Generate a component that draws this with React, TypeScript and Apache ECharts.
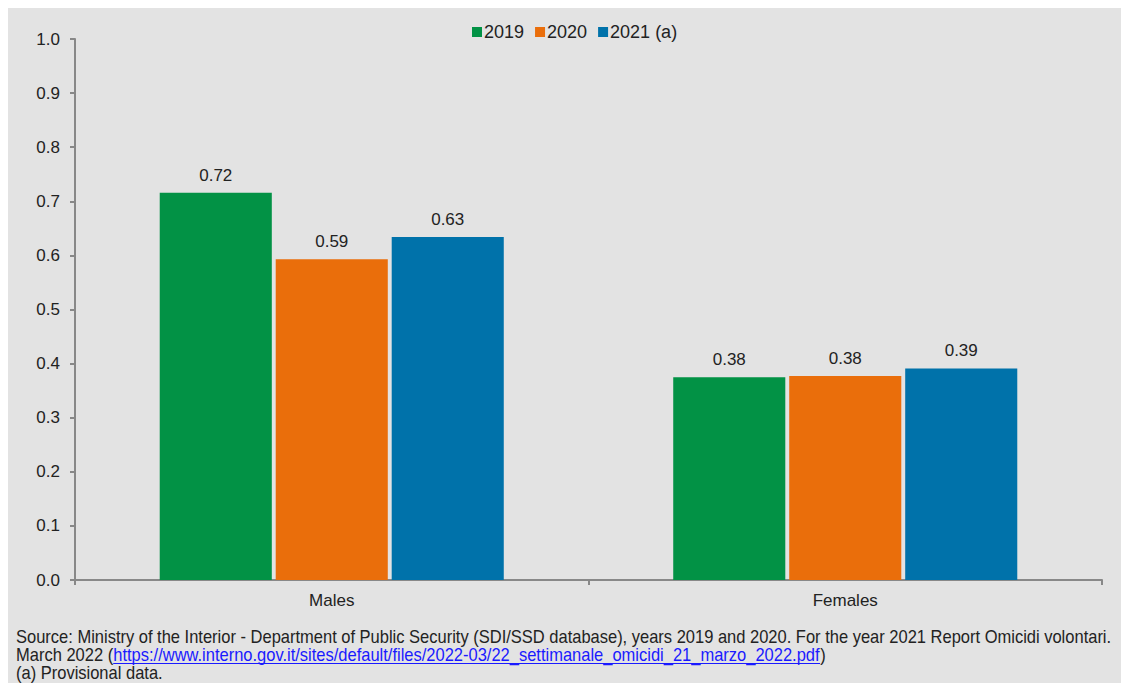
import React, { useEffect, useRef } from "react";
import * as echarts from "echarts";

const categories = ["Males", "Females"];
const seriesNames = ["2019", "2020", "2021 (a)"];
const values2019 = [0.716, 0.375];
const values2020 = [0.593, 0.377];
const values2021 = [0.634, 0.391];
const colors = ["#029245", "#ea6e0b", "#0072aa"];
const yTicks = { min: 0, max: 1, interval: 0.1 };
const sourceLine1 =
  "Source: Ministry of the Interior - Department of Public Security (SDI/SSD database), years 2019 and 2020. For the year 2021 Report Omicidi volontari.";
const sourceLine2a = "March 2022 (";
const sourceLink = "https://www.interno.gov.it/sites/default/files/2022-03/22_settimanale_omicidi_21_marzo_2022.pdf";
const sourceLine2b = ")";
const sourceLine3 = "(a) Provisional data.";

const MAIN_FONT = '"Liberation Sans", Arial, Helvetica, sans-serif';
const NOTE_SIZE = 18;

export default function App() {
  const ref = useRef<HTMLDivElement>(null);
  useEffect(() => {
    if (!ref.current) return;
    const chart = echarts.init(ref.current, null, { renderer: "svg" });
    const canvas = document.createElement("canvas");
    const ctx = canvas.getContext("2d")!;
    ctx.font = NOTE_SIZE + "px " + MAIN_FONT;
    const line1W = ctx.measureText(sourceLine1).width;
    const sx = 1096 / line1W;
    const preW = ctx.measureText(sourceLine2a).width * sx;
    const linkW = ctx.measureText(sourceLink).width * sx;
    const noteX = 8;
    const noteFont = NOTE_SIZE + "px " + MAIN_FONT;
    const data = [values2019, values2020, values2021];
    chart.setOption({
      animation: false,
      backgroundColor: "#e3e3e3",
      textStyle: { fontFamily: MAIN_FONT },
      grid: { left: 67, right: 19, top: 31, bottom: 103 },
      legend: {
        top: 10,
        left: 459,
        itemWidth: 10,
        itemHeight: 10,
        itemGap: 11,
        icon: "rect",
        textStyle: { fontSize: 18, color: "#222", fontFamily: MAIN_FONT, padding: [0, 0, 0, -3] },
        data: seriesNames,
      },
      xAxis: {
        type: "category",
        data: categories,
        axisLine: { lineStyle: { color: "#888", width: 2 } },
        axisTick: { show: true, length: 5, lineStyle: { color: "#888", width: 2 } },
        axisLabel: { fontSize: 17, color: "#222", margin: 12, fontFamily: MAIN_FONT },
      },
      yAxis: {
        type: "value",
        min: yTicks.min,
        max: yTicks.max,
        interval: yTicks.interval,
        axisLine: { show: true, lineStyle: { color: "#888", width: 2 } },
        axisTick: { show: true, length: 5, lineStyle: { color: "#888", width: 2 } },
        splitLine: { show: false },
        axisLabel: {
          fontSize: 17,
          color: "#222",
          margin: 15,
          fontFamily: MAIN_FONT,
          formatter: (v: number) => v.toFixed(1),
        },
      },
      series: seriesNames.map((name, i) => ({
        name,
        type: "bar",
        data: data[i],
        barGap: "3.5%",
        barCategoryGap: "33%",
        itemStyle: { color: colors[i] },
        label: {
          show: true,
          position: "top",
          distance: 9,
          fontSize: 17,
          color: "#222",
          fontFamily: MAIN_FONT,
          formatter: (p: any) => (Math.round(p.value * 100) / 100).toFixed(2),
        },
      })),
      graphic: [
        {
          type: "text",
          x: noteX,
          y: 629,
          scaleX: sx,
          style: { text: sourceLine1, font: noteFont, fill: "#222", verticalAlign: "middle" },
        },
        {
          type: "text",
          x: noteX,
          y: 647,
          scaleX: sx,
          style: {
            text: "{a|" + sourceLine2a + "}{l|" + sourceLink + "}{a|" + sourceLine2b + "}",
            font: noteFont,
            fill: "#222",
            verticalAlign: "middle",
            rich: {
              a: { font: noteFont, fill: "#222" },
              l: { font: noteFont, fill: "#1a1aff" },
            },
          },
        },
        {
          type: "line",
          shape: { x1: noteX + preW, y1: 655.5, x2: noteX + preW + linkW, y2: 655.5 },
          style: { stroke: "#1a1aff", lineWidth: 1 },
        },
        {
          type: "text",
          x: noteX,
          y: 664.5,
          scaleX: sx,
          style: { text: sourceLine3, font: noteFont, fill: "#222", verticalAlign: "middle" },
        },
      ],
    });
    return () => chart.dispose();
  }, []);
  return <div ref={ref} style={{ width: 1113, height: 675 }} />;
}
